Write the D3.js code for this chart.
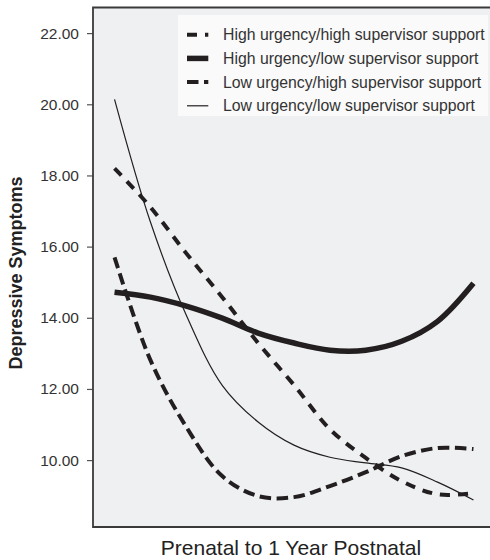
<!DOCTYPE html>
<html>
<head>
<meta charset="utf-8">
<script src="https://cdn.jsdelivr.net/npm/d3@7"></script>
<style>
  body { margin: 0; background: #fff; }
  svg { display: block; font-family: "Liberation Sans", Arial, sans-serif; }
</style>
</head>
<body>
<div id="chart"></div>
<script>
// time along the x axis, prenatal (0) to 1 year postnatal (1)
const timePoints = [0, 0.1, 0.2, 0.3, 0.4, 0.5, 0.6, 0.7, 0.8, 0.9, 1.0];

const highHigh = [18.20, 17.11, 15.81, 14.58, 13.29, 12.11, 10.87, 10.06, 9.41, 9.04, 9.07];
const highLow = [14.72, 14.58, 14.33, 13.99, 13.57, 13.29, 13.09, 13.09, 13.34, 13.90, 14.97];
const lowHigh = [15.70, 12.81, 10.93, 9.55, 8.99, 8.96, 9.27, 9.66, 10.11, 10.34, 10.31];
const lowLow = [20.14, 16.69, 14.07, 12.10, 11.07, 10.42, 10.08, 9.92, 9.78, 9.38, 8.88];

const seriesNames = [
    'High urgency/high supervisor support',
    'High urgency/low supervisor support',
    'Low urgency/high supervisor support',
    'Low urgency/low supervisor support'
];
const yTicks = [10, 12, 14, 16, 18, 20, 22];

const width = 490, height = 560;
const plot = { left: 93, top: 7.5, right: 495, bottom: 527 };
const ink = '#231f20';

const styles = [
    { width: 4, dash: '10,8' },
    { width: 5.5, dash: null },
    { width: 4, dash: '11.5,5.5' },
    { width: 1.2, dash: null }
];

const series = [highHigh, highLow, lowHigh, lowLow].map((vals, i) => ({
    name: seriesNames[i],
    style: styles[i],
    points: vals.map((v, j) => [timePoints[j], v])
}));

const svg = d3.select('#chart')
    .append('svg')
    .attr('width', width)
    .attr('height', height);

const x = d3.scaleLinear().domain([-0.06, 1.06]).range([plot.left, plot.right]);
const y = d3.scaleLinear().domain([8.12, 22.72]).range([plot.bottom, plot.top]);

svg.append('rect')
    .attr('x', plot.left)
    .attr('y', plot.top)
    .attr('width', plot.right - plot.left)
    .attr('height', plot.bottom - plot.top)
    .attr('fill', '#eff0f2');

// y axis with ticks outside the box
const yAxis = svg.append('g')
    .attr('transform', `translate(${plot.left},0)`)
    .call(d3.axisLeft(y).tickValues(yTicks).tickFormat(d3.format('.2f')).tickSize(6).tickPadding(8));
yAxis.select('.domain').remove();
yAxis.selectAll('.tick line').attr('stroke', '#555').attr('stroke-width', 1.2);
yAxis.selectAll('.tick text')
    .attr('fill', '#333')
    .style('font-size', '15.5px')
    .style('font-family', '"Liberation Sans", Arial, sans-serif');

// frame: top, left, bottom
svg.append('path')
    .attr('d', `M${plot.right},${plot.top}H${plot.left}V${plot.bottom}H${plot.right}`)
    .attr('fill', 'none')
    .attr('stroke', '#3a3a3a')
    .attr('stroke-width', 1.8);

const line = d3.line()
    .x(d => x(d[0]))
    .y(d => y(d[1]))
    .curve(d3.curveCatmullRom.alpha(0.5));

svg.append('g')
    .selectAll('path')
    .data(series)
    .enter()
    .append('path')
    .attr('d', d => line(d.points))
    .attr('fill', 'none')
    .attr('stroke', ink)
    .attr('stroke-width', d => d.style.width)
    .attr('stroke-dasharray', d => d.style.dash);

// legend
const legend = svg.append('g');
legend.append('rect')
    .attr('x', 178)
    .attr('y', 15)
    .attr('width', 310)
    .attr('height', 101)
    .attr('fill', '#fafafa');

const rows = legend.selectAll('g.row')
    .data(series)
    .enter()
    .append('g')
    .attr('class', 'row')
    .attr('transform', (d, i) => `translate(187, ${34.7 + i * 23.7})`);

rows.append('line')
    .attr('x1', 0)
    .attr('x2', 21.3)
    .attr('stroke', ink)
    .attr('stroke-width', d => d.style.width)
    .attr('stroke-dasharray', d => d.style.dash);

rows.append('text')
    .attr('x', 36)
    .attr('y', 5.5)
    .attr('fill', '#333')
    .style('font-size', '15.8px')
    .text(d => d.name);

// axis titles
svg.append('text')
    .attr('transform', `translate(22, 273) rotate(-90)`)
    .attr('text-anchor', 'middle')
    .attr('fill', '#222')
    .style('font-size', '18px')
    .style('font-weight', 'bold')
    .text('Depressive Symptoms');

svg.append('text')
    .attr('x', 291)
    .attr('y', 555)
    .attr('text-anchor', 'middle')
    .attr('fill', '#222')
    .style('font-size', '21px')
    .text('Prenatal to 1 Year Postnatal');
</script>
</body>
</html>
